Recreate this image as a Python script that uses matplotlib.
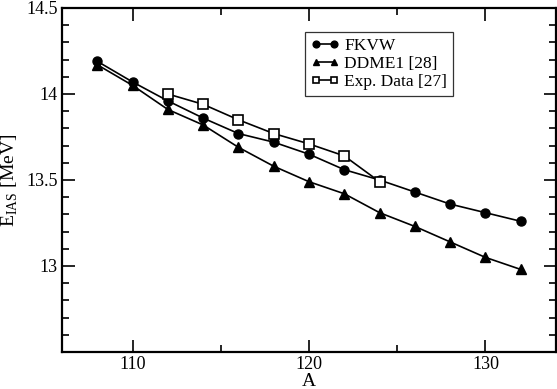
import matplotlib
matplotlib.use("Agg")
import matplotlib.pyplot as plt
from matplotlib.ticker import MultipleLocator

plt.rcParams['font.family'] = ['Liberation Serif', 'DejaVu Serif']
plt.rcParams['mathtext.fontset'] = 'custom'
plt.rcParams['mathtext.rm'] = 'Liberation Serif'

A_fkvw = [108, 110, 112, 114, 116, 118, 120, 122, 124, 126, 128, 130, 132]
E_fkvw = [14.19, 14.07, 13.96, 13.86, 13.77, 13.72, 13.65, 13.56, 13.50, 13.43, 13.36, 13.31, 13.26]
A_ddme = [108, 110, 112, 114, 116, 118, 120, 122, 124, 126, 128, 130, 132]
E_ddme = [14.17, 14.05, 13.91, 13.82, 13.69, 13.58, 13.49, 13.42, 13.31, 13.23, 13.14, 13.05, 12.98]
A_exp = [112, 114, 116, 118, 120, 122, 124]
E_exp = [14.00, 13.94, 13.85, 13.77, 13.71, 13.64, 13.49]

fig = plt.figure(figsize=(5.57, 3.89), dpi=100)
ax = fig.add_axes([62/557, 1-352/389, (556-62)/557, (352-8)/389])

ax.plot(A_fkvw, E_fkvw, '-o', color='black', lw=1.2, ms=6.5, label='FKVW')
ax.plot(A_ddme, E_ddme, '-^', color='black', lw=1.2, ms=6.5, label='DDME1 [28]')
ax.plot(A_exp, E_exp, '-s', color='black', mfc='white', mew=1.2, lw=1.2, ms=6.5, label='Exp. Data [27]')

ax.set_xlim(106, 134)
ax.set_ylim(12.5, 14.5)
ax.xaxis.set_major_locator(MultipleLocator(10))
ax.xaxis.set_minor_locator(MultipleLocator(5))
ax.yaxis.set_minor_locator(MultipleLocator(0.1))
ax.set_yticks([13, 13.5, 14, 14.5])
ax.set_yticklabels(['13', '13.5', '14', '14.5'])
ax.tick_params(which='both', direction='in', top=True, right=True, labelsize=13, width=1.2)
ax.tick_params(which='major', length=9, pad=3)
ax.tick_params(which='minor', length=5)
for s in ax.spines.values():
    s.set_linewidth(1.6)

ax.set_xlabel('A', fontsize=14)
ax.xaxis.set_label_coords(0.5, -0.062, transform=ax.transAxes)
ax.xaxis.label.set_va('top')
ax.set_ylabel(r'E$_{\mathrm{IAS}}$ [MeV]', fontsize=14)
ax.yaxis.set_label_coords((20-62)/494, 0.5)

leg = ax.legend(loc='upper left', bbox_to_anchor=((305-62)/494, 1-(32-8)/344), numpoints=2,
                fontsize=12.5, frameon=True, fancybox=False, edgecolor='black',
                handlelength=1.6, handletextpad=0.3, labelspacing=0.1, borderpad=0.35,
                borderaxespad=0, markerscale=0.75)
leg.get_frame().set_linewidth(0.9)

fig.savefig('out.png', dpi=100)
